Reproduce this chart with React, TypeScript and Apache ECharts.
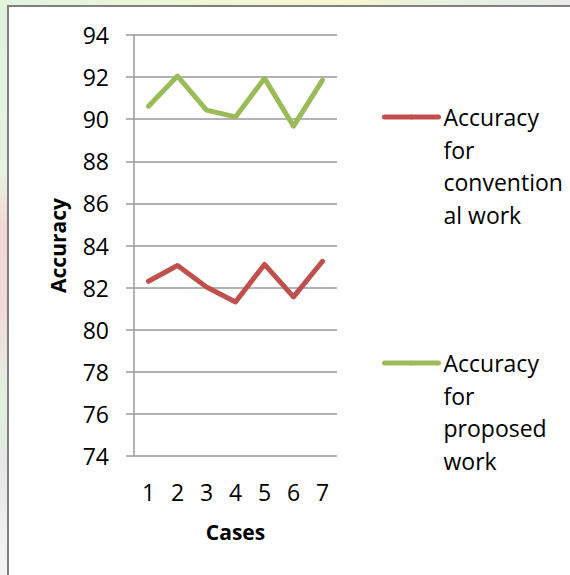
import React, { useEffect, useRef } from "react";
import * as echarts from "echarts";

const cases = ["1", "2", "3", "4", "5", "6", "7"];
const conventional = [82.3, 83.05, 82.03, 81.32, 83.1, 81.56, 83.25];
const proposed = [90.62, 92.05, 90.43, 90.11, 91.94, 89.67, 91.86];
const seriesNames = ["Accuracy for conventional work", "Accuracy for proposed work"];
const legendLabels = ["Accuracy\nfor\nconvention\nal work", "Accuracy\nfor\nproposed\nwork"];
const yMin = 74;
const yMax = 94;
const yStep = 2;
const colors = ["#c0504d", "#9bbb59"];

const FONT = "'Open Sans', 'Noto Sans', sans-serif";
const LH = 32.5;

export default function App() {
  const ref = useRef<HTMLDivElement>(null);
  useEffect(() => {
    if (!ref.current) return;
    const chart = echarts.init(ref.current, undefined, { renderer: "svg" });
    const legendBase = {
      orient: "vertical",
      left: 382,
      padding: 0,
      itemWidth: 54,
      itemHeight: 6,
      itemGap: 0,
      textStyle: { fontFamily: FONT, fontSize: 23, color: "#000", lineHeight: LH },
      lineStyle: { width: 5, cap: "round" },
      formatter: (name: string) => "\n\n\n" + legendLabels[seriesNames.indexOf(name)],
    };
    chart.setOption({
      animation: false,
      backgroundColor: "transparent",
      textStyle: { fontFamily: FONT },
      grid: { left: 134, right: 233, top: 35, bottom: 119 },
      legend: [
        { ...legendBase, top: 117 - 3.5 * LH, data: [seriesNames[0]] },
        { ...legendBase, top: 363 - 3.5 * LH, data: [seriesNames[1]] },
      ],
      xAxis: {
        type: "category",
        data: cases,
        boundaryGap: true,
        name: "Cases",
        nameLocation: "middle",
        nameGap: 65,
        nameTextStyle: { fontFamily: FONT, fontSize: 21, fontWeight: "bold", color: "#000" },
        axisLine: { show: false },
        axisTick: { show: false },
        axisLabel: { fontFamily: FONT, fontSize: 23, color: "#000", margin: 24 },
      },
      yAxis: {
        type: "value",
        min: yMin,
        max: yMax,
        interval: yStep,
        name: "Accuracy",
        nameLocation: "middle",
        nameGap: 66,
        nameTextStyle: { fontFamily: FONT, fontSize: 21, fontWeight: "bold", color: "#000" },
        axisLine: { show: true, lineStyle: { color: "#9a9a9a", width: 1.5 } },
        axisTick: { show: true, inside: false, length: 8, lineStyle: { color: "#9a9a9a", width: 1.5 } },
        splitLine: { show: true, lineStyle: { color: "#9a9a9a", width: 1.5 } },
        axisLabel: { fontFamily: FONT, fontSize: 23, color: "#000", margin: 25 },
      },
      series: [
        {
          name: seriesNames[0],
          type: "line",
          data: conventional,
          symbol: "none",
          color: colors[0],
          lineStyle: { width: 5, color: colors[0], cap: "round", join: "round" },
        },
        {
          name: seriesNames[1],
          type: "line",
          data: proposed,
          symbol: "none",
          color: colors[1],
          lineStyle: { width: 5, color: colors[1], cap: "round", join: "round" },
        },
      ],
    });
    return () => chart.dispose();
  }, []);

  return (
    <div
      style={{
        position: "fixed",
        left: 0,
        top: 0,
        width: 570,
        height: 575,
        overflow: "hidden",
        background:
          "linear-gradient(180deg, #dff3df 0%, #e8f3e0 30%, #f3d6d6 40%, #f0dcdc 55%, #e0f3e0 70%, #e6e6e6 80%, #f4f4f4 100%)",
      }}
    >
      <div
        style={{
          position: "absolute",
          left: 0,
          top: 0,
          width: 570,
          height: 6,
          background: "linear-gradient(90deg, #e2f3df 0%, #eef6d8 30%, #f6f6d0 60%, #e6efe0 80%, #eaeaea 100%)",
        }}
      />
      <div
        style={{
          position: "absolute",
          left: 7,
          top: 5,
          width: 600,
          height: 600,
          background: "#fff",
          borderLeft: "2px solid #7f7f7f",
          borderTop: "2px solid #7f7f7f",
        }}
      />
      <div ref={ref} style={{ position: "absolute", left: 0, top: 0, width: 570, height: 575 }} />
    </div>
  );
}
